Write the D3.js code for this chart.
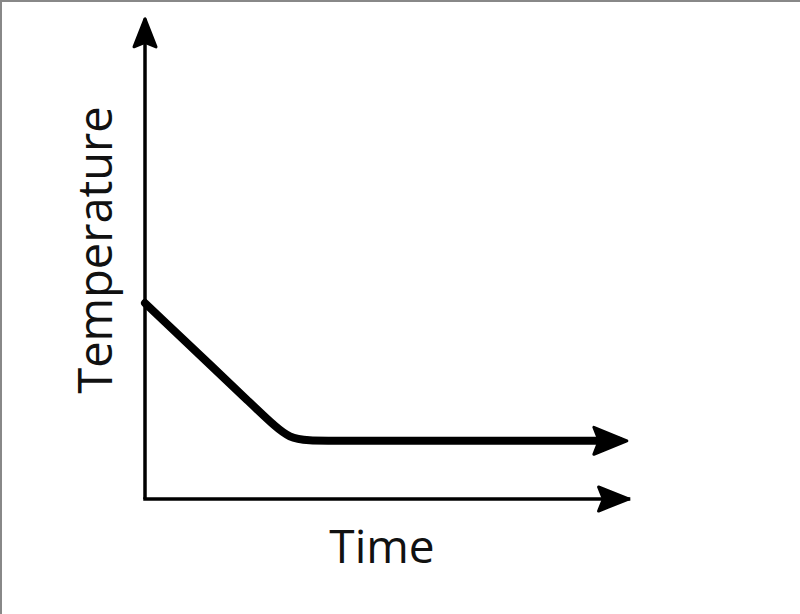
<!DOCTYPE html>
<html>
<head>
<meta charset="utf-8">
<script src="https://cdn.jsdelivr.net/npm/d3@7"></script>
<style>
  html, body { margin: 0; padding: 0; background: #fff; }
  svg { display: block; }
  .label { font-family: "Open Sans", sans-serif; fill: #111; }
</style>
</head>
<body>
<div id="chart"></div>
<script>
// Cooling curve: temperature drops steadily, then levels off (arbitrary units)
const timeValues = [0, 24.1, 29.8, 35.6, 97.5];
const tempValues = [40.4, 17.5, 12.0, 12.0, 12.0];
const axisLabels = { x: "Time", y: "Temperature" };

const width = 800;
const height = 614;

const svg = d3.select("#chart")
  .append("svg")
    .attr("width", width)
    .attr("height", height);

//Frame edges seen on the top and left of the picture
svg.append("line")
    .attr("x1", 0).attr("y1", 1).attr("x2", width).attr("y2", 1)
    .attr("stroke", "#888").attr("stroke-width", 2);
svg.append("line")
    .attr("x1", 1).attr("y1", 0).attr("x2", 1).attr("y2", height)
    .attr("stroke", "#888").attr("stroke-width", 2);

const xScale = d3.scaleLinear().domain([0, 100]).range([145, 631]);
const yScale = d3.scaleLinear().domain([0, 100]).range([499, 14]);

//Arrowhead markers (concave back), sized in user space
//"ahead" pushes the tip beyond the end of the path so round caps stay hidden
const defs = svg.append("defs");
const addArrow = (id, len, wid, ahead) => {
  defs.append("marker")
      .attr("id", id)
      .attr("markerUnits", "userSpaceOnUse")
      .attr("viewBox", `${-len - 4} ${-wid / 2 - 4} ${len + 8} ${wid + 8}`)
      .attr("refX", -ahead)
      .attr("refY", 0)
      .attr("markerWidth", len + 8)
      .attr("markerHeight", wid + 8)
      .attr("orient", "auto")
    .append("path")
      .attr("d", `M0,0 L${-len},${-wid / 2} L${-len * 0.84},0 L${-len},${wid / 2} Z`)
      .attr("fill", "#000")
      .attr("stroke", "#000")
      .attr("stroke-width", 3)
      .attr("stroke-linejoin", "round");
};
addArrow("arrow-axis-y", 28, 22, 0);
addArrow("arrow-axis-x", 30, 24, 0);
addArrow("arrow-curve", 33, 27, 8);

const axisLine = d3.line()
  .x(d => xScale(d[0]))
  .y(d => yScale(d[1]));

//Y axis
svg.append("path")
    .attr("d", axisLine([[0, 0], [0, 99]]))
    .attr("fill", "none")
    .attr("stroke", "#000")
    .attr("stroke-width", 3.5)
    .attr("marker-end", "url(#arrow-axis-y)");

//X axis
svg.append("path")
    .attr("d", axisLine([[0, 0], [99.5, 0]]))
    .attr("fill", "none")
    .attr("stroke", "#000")
    .attr("stroke-width", 3.5)
    .attr("stroke-linecap", "square")
    .attr("marker-end", "url(#arrow-axis-x)");

//Cooling curve
const curveData = timeValues.map((t, i) => ({ time: t, temp: tempValues[i] }));

const curve = d3.line()
  .x(d => xScale(d.time))
  .y(d => yScale(d.temp))
  .curve(d3.curveBasis);

svg.append("path")
    .datum(curveData)
    .attr("d", curve)
    .attr("fill", "none")
    .attr("stroke", "#000")
    .attr("stroke-width", 8)
    .attr("stroke-linecap", "round")
    .attr("stroke-linejoin", "round")
    .attr("marker-end", "url(#arrow-curve)");

//Axis titles
svg.append("text")
    .attr("class", "label")
    .attr("x", 382)
    .attr("y", 563)
    .attr("text-anchor", "middle")
    .style("font-size", "46px")
    .text(axisLabels.x);

svg.append("text")
    .attr("class", "label")
    .attr("transform", "translate(112,250) rotate(-90)")
    .attr("text-anchor", "middle")
    .style("font-size", "47px")
    .text(axisLabels.y);
</script>
</body>
</html>
